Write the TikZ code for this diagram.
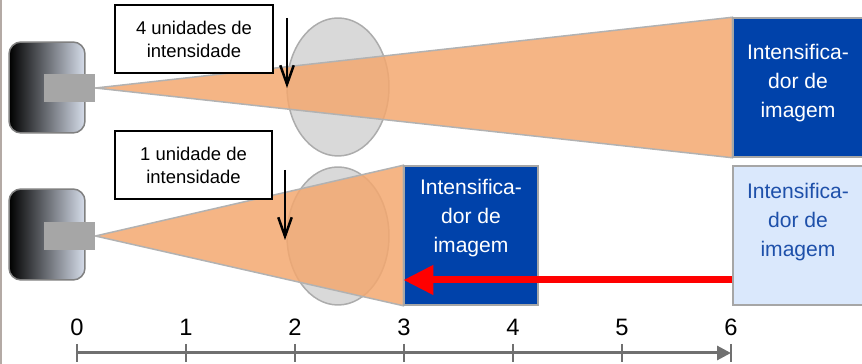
\documentclass[tikz,border=0pt]{standalone}
\usepackage{fontspec}
\setmainfont{Liberation Sans}
\usetikzlibrary{arrows.meta,backgrounds}
\definecolor{conecol}{RGB}{243,168,112}
\definecolor{lensgray}{RGB}{217,217,217}
\definecolor{lensline}{RGB}{172,172,172}
\definecolor{iidark}{RGB}{0,66,170}
\definecolor{iilight}{RGB}{218,232,252}
\definecolor{iiblue}{RGB}{30,80,170}
\definecolor{tubeend}{RGB}{214,221,234}
\definecolor{axisgray}{RGB}{112,112,112}
\definecolor{edgecol}{RGB}{180,170,165}
\def\upperlens{(338,87) ellipse [x radius=1.02cm, y radius=1.38cm]}
\def\lowerlens{(338,236) ellipse [x radius=1.02cm, y radius=1.38cm]}

\begin{document}
\begin{tikzpicture}[x=0.02cm,y=-0.02cm,
    tube/.style={draw=gray, line width=0.03cm, rounded corners=0.24cm, left color=black,
        right color=tubeend, minimum width=1.52cm, minimum height=1.82cm, inner sep=0},
    src/.style={fill={rgb,255:red,166;green,166;blue,166}, minimum width=1.02cm,
        minimum height=0.56cm, inner sep=0},
    iibox/.style={draw=gray!70, line width=0.03cm, minimum height=2.78cm, inner sep=0},
    iitext/.style={align=center, inner sep=0, font=\fontsize{12}{16.5}\selectfont},
    note/.style={draw=black, line width=0.04cm, fill=white, minimum width=3.16cm,
        minimum height=1.36cm, align=center, font=\fontsize{10.5}{13}\selectfont},
    cone/.style={fill=conecol, fill opacity=0.85, draw=gray!60, line width=0.03cm},
    lens/.style={fill=lensgray, draw=lensline, line width=0.03cm},
    down/.style={line width=0.05cm, -{Straight Barb[length=0.38cm,width=0.27cm]}},
    num/.style={font=\fontsize{13.5}{16}\selectfont, inner sep=0}]
    \useasboundingbox (0,0) rectangle (862,364);
    \draw[edgecol, line width=0.03cm] (0.8,0) -- (0.8,364);

    % tubes
    \node[tube] (tubeA) at (47,87.5) {};
    \node[tube] (tubeB) at (47,234.5) {};
    \node[src] (srcA) at (69.5,88) {};
    \node[src] (srcB) at (69.5,236) {};

    % image intensifiers
    \node[iibox, fill=iidark, minimum width=2.6cm] (iiTop) at (798,87.5) {};
    \node[iibox, fill=iilight, minimum width=2.6cm] (iiFar) at (798,235.5) {};
    \node[iibox, fill=iidark, minimum width=2.68cm] (iiNear) at (471,235.5) {};
    \node[iitext, text=white] (tTop) at ([yshift=0.09cm]iiTop.center) {Intensifica-\\dor de\\imagem};
    \node[iitext, text=iiblue] (tFar) at ([yshift=0.27cm]iiFar.center) {Intensifica-\\dor de\\imagem};
    \node[iitext, text=white] (tNear) at ([yshift=0.35cm]iiNear.center) {Intensifica-\\dor de\\imagem};

    \begin{scope}[on background layer]
        \draw[lens] \upperlens;
        \draw[lens] \lowerlens;
        \draw[cone] (srcA.east) -- (iiTop.north west) -- (iiTop.south west) -- cycle;
        \draw[cone] (srcB.east) -- (iiNear.north west) -- (iiNear.south west) -- cycle;
    \end{scope}

    \coordinate (ay) at (0,280);
    \draw[red, line width=0.14cm, -{Triangle[length=0.6cm,width=0.56cm]}]
        (iiFar.west |- ay) -- (iiNear.west |- ay);

    % labels
    \node[note] (noteA) at (194,39) {4 unidades de\\intensidade};
    \node[note] (noteB) at (193.5,165) {1 unidade de\\intensidade};
    \coordinate (hitA) at (287,88);
    \coordinate (hitB) at (285,240);
    \draw[down] (hitA) ++(0,-70) -- (hitA);
    \draw[down] (hitB) ++(0,-70) -- (hitB);

    % axis
    \draw[axisgray, line width=0.06cm, -{Triangle[length=0.28cm,width=0.28cm]}] (77,353) -- (731,353);
    \foreach \i in {0,...,6} {
        \draw[axisgray, line width=0.04cm] (77+109*\i,344) -- (77+109*\i,362);
        \node[num] (n\i) at (77+109*\i,327.5) {\i};
    }
\end{tikzpicture}
\end{document}
